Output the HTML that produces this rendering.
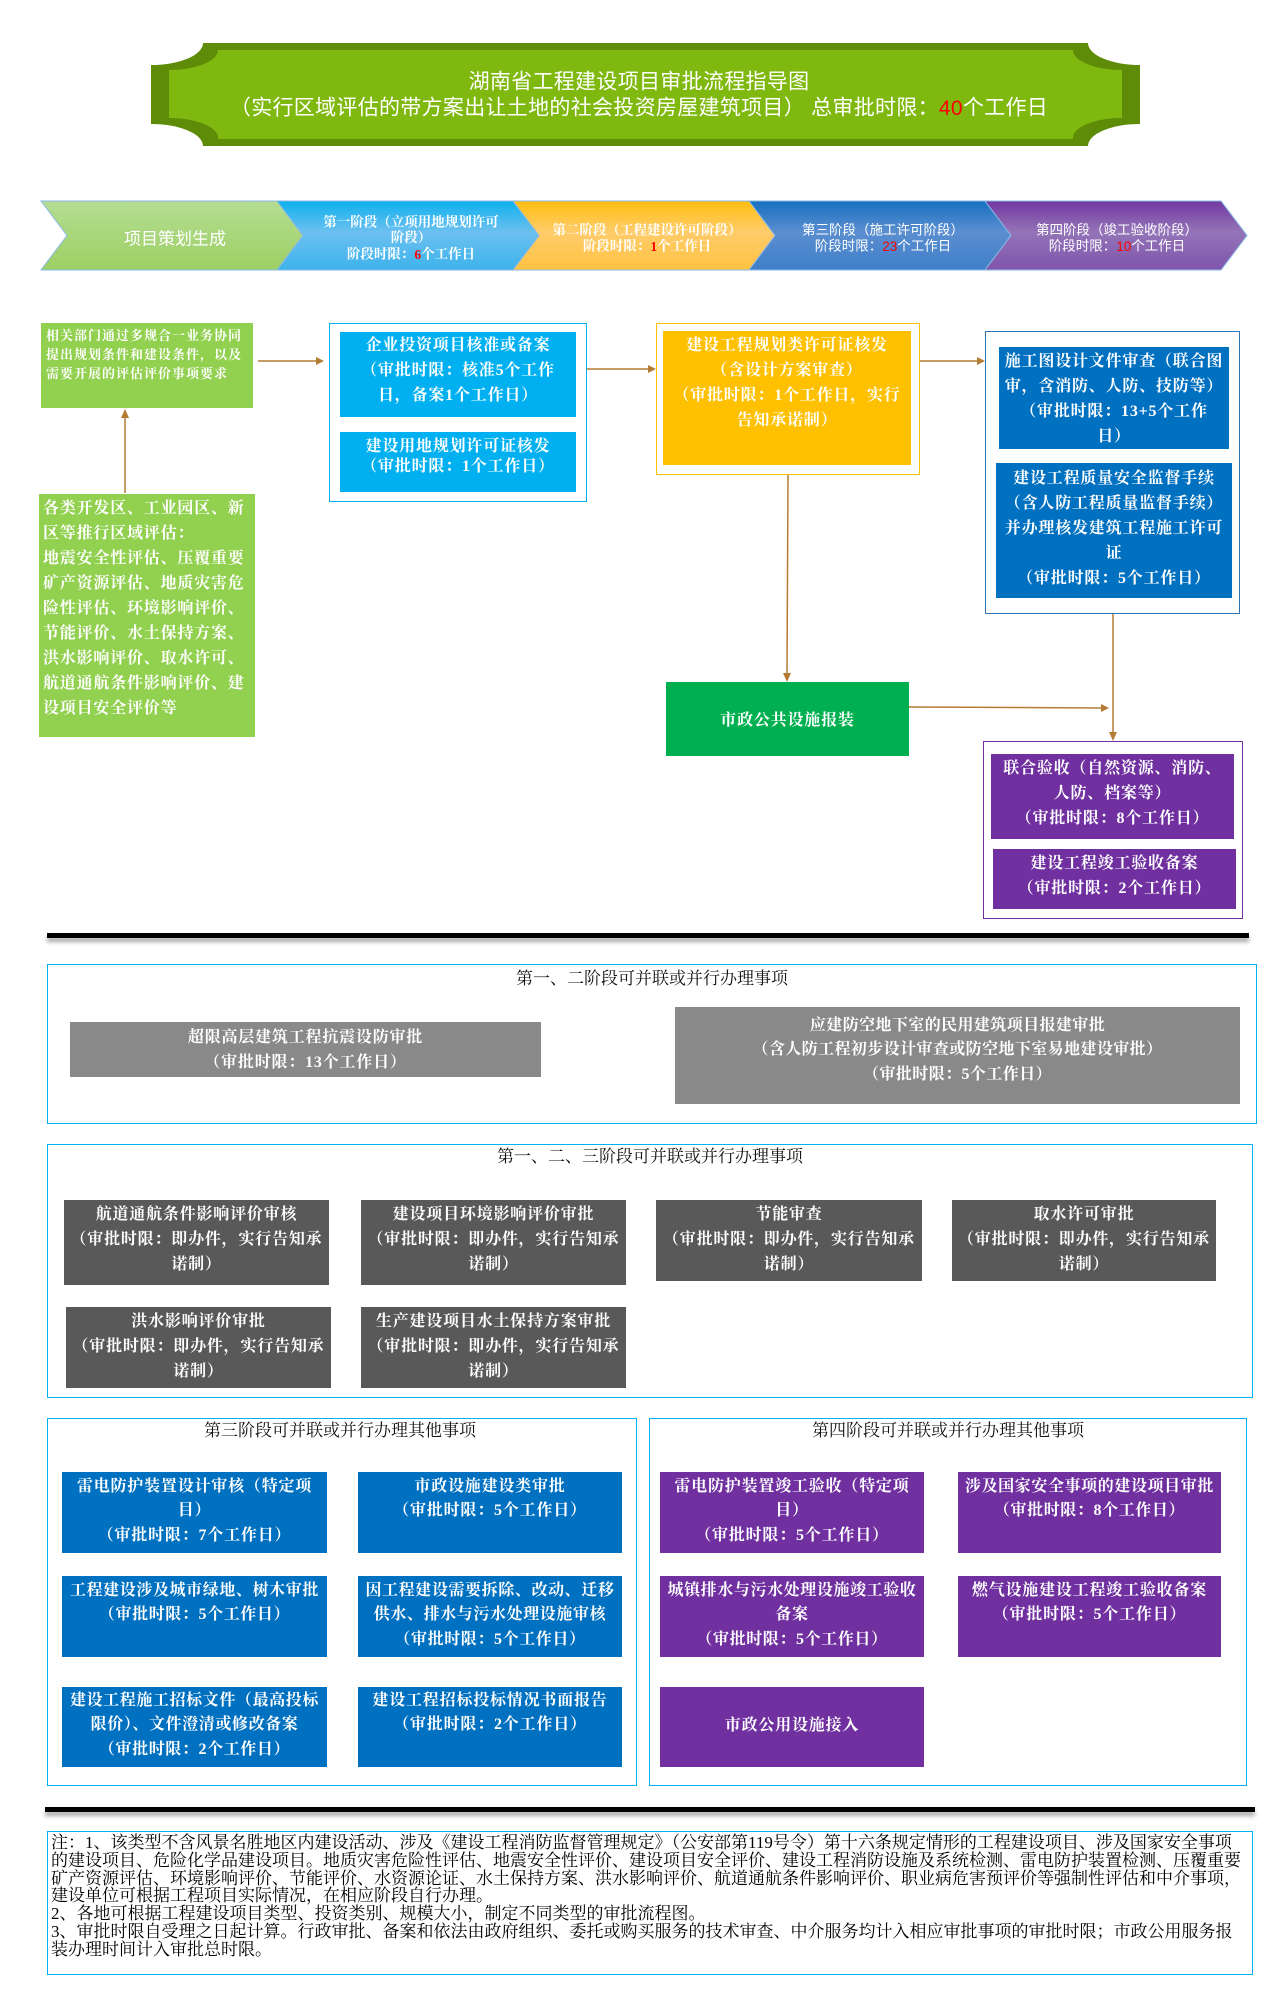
<!DOCTYPE html>
<html>
<head>
<meta charset="utf-8">
<style>
html,body{margin:0;padding:0;background:#fff;}
body{width:1288px;height:2004px;position:relative;overflow:hidden;}
.a{position:absolute;box-sizing:border-box;}
.b{font-family:"Liberation Serif","Noto Serif CJK SC",serif;font-weight:bold;font-size:16px;letter-spacing:0.8px;color:#fff;text-align:center;white-space:nowrap;line-height:25px;}
.sec{border:1.5px solid #00b0f0;background:#fff;}
.st{position:absolute;font-family:"Liberation Serif","Noto Serif CJK SC",serif;font-size:17px;line-height:20px;color:#111;white-space:nowrap;transform:translateX(-50%);}
.bar{position:absolute;height:5px;background:#000;box-shadow:0 4px 4px rgba(0,0,0,0.35);}
.gr{background:#898989;}
.dk{background:#595959;}
.bl{background:#0070c0;}
.pu{background:#7030a0;}
</style>
</head>
<body>

<!-- Title banner + stage chevrons -->
<svg class="a" style="left:0;top:0" width="1288" height="300" xmlns="http://www.w3.org/2000/svg">
<defs>
<linearGradient id="g1" x1="0" y1="0" x2="0" y2="1"><stop offset="0" stop-color="#b5dd93"/><stop offset="1" stop-color="#9ccf63"/></linearGradient>
<linearGradient id="g2" x1="0" y1="0" x2="0" y2="1"><stop offset="0" stop-color="#0fb0ee"/><stop offset="0.45" stop-color="#6cc0f0"/><stop offset="1" stop-color="#3db3ec"/></linearGradient>
<linearGradient id="g3" x1="0" y1="0" x2="0" y2="1"><stop offset="0" stop-color="#ffbe0f"/><stop offset="0.45" stop-color="#ffcc6c"/><stop offset="1" stop-color="#ffc240"/></linearGradient>
<linearGradient id="g4" x1="0" y1="0" x2="0" y2="1"><stop offset="0" stop-color="#1770c0"/><stop offset="0.45" stop-color="#5b8ed0"/><stop offset="1" stop-color="#3f7fc8"/></linearGradient>
<linearGradient id="g5" x1="0" y1="0" x2="0" y2="1"><stop offset="0" stop-color="#7238a0"/><stop offset="0.45" stop-color="#9474b8"/><stop offset="1" stop-color="#7f55ac"/></linearGradient>
</defs>
<path d="M203,43 H1088 A52,22 0 0 0 1140,65 V124 A52,22 0 0 0 1088,146 H203 A52,22 0 0 0 151,124 V65 A52,22 0 0 0 203,43 Z" fill="#5e8b08"/>
<path d="M218,50 H1073 A49,20 0 0 0 1122,70 V118 A49,20 0 0 0 1073,139 H218 A49,20 0 0 0 169,118 V70 A49,20 0 0 0 218,50 Z" fill="#7fb80f"/>
<text x="639" y="82" fill="#fff" font-family="Liberation Sans, Noto Sans CJK SC, sans-serif" font-size="21" letter-spacing="0.3" text-anchor="middle" dominant-baseline="central">湖南省工程建设项目审批流程指导图</text>
<text x="639" y="108" fill="#fff" font-family="Liberation Sans, Noto Sans CJK SC, sans-serif" font-size="21" letter-spacing="0.3" text-anchor="middle" dominant-baseline="central">（实行区域评估的带方案出让土地的社会投资房屋建筑项目）  总审批时限：<tspan fill="#ff0000">40</tspan>个工作日</text>

<polygon points="41,201 277,201 303,235.5 277,270 41,270 67,235.5" fill="url(#g1)" stroke="#8ab8e6" stroke-width="1"/>
<polygon points="277,201 513,201 539,235.5 513,270 277,270 303,235.5" fill="url(#g2)" stroke="#8ab8e6" stroke-width="1"/>
<polygon points="513,201 749,201 775,235.5 749,270 513,270 539,235.5" fill="url(#g3)" stroke="#8ab8e6" stroke-width="1"/>
<polygon points="749,201 985,201 1011,235.5 985,270 749,270 775,235.5" fill="url(#g4)" stroke="#8ab8e6" stroke-width="1"/>
<polygon points="985,201 1221,201 1247,235.5 1221,270 985,270 1011,235.5" fill="url(#g5)" stroke="#8ab8e6" stroke-width="1"/>

<g font-family="Liberation Serif, Noto Serif CJK SC, serif" fill="#fff" text-anchor="middle" dominant-baseline="central">
<text x="175" y="239" font-size="17" font-family="Liberation Sans, Noto Sans CJK SC, sans-serif">项目策划生成</text>
<g font-size="13.5" font-weight="bold">
<text x="411" y="222">第一阶段（立项用地规划许可</text>
<text x="411" y="237.5">阶段）</text>
<text x="411" y="254">阶段时限：<tspan fill="#ff0000">6</tspan>个工作日</text>
<text x="647" y="230">第二阶段（工程建设许可阶段）</text>
<text x="647" y="246">阶段时限：<tspan fill="#ff0000">1</tspan>个工作日</text>
</g>
<g font-size="13.5" font-family="Liberation Sans, Noto Sans CJK SC, sans-serif">
<text x="883" y="230">第三阶段（施工许可阶段）</text>
<text x="883" y="246">阶段时限：<tspan fill="#ff0000">23</tspan>个工作日</text>
<text x="1117" y="230">第四阶段（竣工验收阶段）</text>
<text x="1117" y="246">阶段时限：<tspan fill="#ff0000">10</tspan>个工作日</text>
</g>
</g>
</svg>

<!-- Main flow -->
<div class="a b" style="left:41px;top:323px;width:212px;height:85px;background:#92d050;text-align:left;font-size:13px;line-height:19px;letter-spacing:1px;padding:2.5px 0 0 5px;">相关部门通过多规合一业务协同<br>提出规划条件和建设条件，以及<br>需要开展的评估评价事项要求</div>

<div class="a b" style="left:39px;top:494px;width:216px;height:243px;background:#92d050;text-align:left;padding:1.5px 0 0 4px;">各类开发区、工业园区、新<br>区等推行区域评估：<br>地震安全性评估、压覆重要<br>矿产资源评估、地质灾害危<br>险性评估、环境影响评价、<br>节能评价、水土保持方案、<br>洪水影响评价、取水许可、<br>航道通航条件影响评价、建<br>设项目安全评价等</div>

<div class="a" style="left:329px;top:323px;width:258px;height:179px;border:1px solid #00b0f0;"></div>
<div class="a b" style="left:340px;top:332px;width:236px;height:85px;background:#00b0f0;padding-top:0.5px;">企业投资项目核准或备案<br>（审批时限：核准5个工作<br>日，备案1个工作日）</div>
<div class="a b" style="left:340px;top:432px;width:236px;height:60px;background:#00b0f0;line-height:20px;padding-top:5px;">建设用地规划许可证核发<br>（审批时限：1个工作日）</div>

<div class="a" style="left:656px;top:323px;width:264px;height:152px;border:1.5px solid #ffc000;"></div>
<div class="a b" style="left:663px;top:331px;width:248px;height:134px;background:#ffc000;padding-top:1.5px;">建设工程规划类许可证核发<br>（含设计方案审查）<br>（审批时限：1个工作日，实行<br>告知承诺制）</div>

<div class="a" style="left:985px;top:331px;width:255px;height:283px;border:1px solid #2e75b6;"></div>
<div class="a b bl" style="left:999px;top:347px;width:230px;height:102px;padding-top:1.5px;">施工图设计文件审查（联合图<br>审，含消防、人防、技防等）<br>（审批时限：13+5个工作<br>日）</div>
<div class="a b bl" style="left:996px;top:463px;width:236px;height:135px;padding-top:2.5px;">建设工程质量安全监督手续<br>（含人防工程质量监督手续）<br>并办理核发建筑工程施工许可<br>证<br>（审批时限：5个工作日）</div>

<div class="a b" style="left:666px;top:682px;width:243px;height:74px;background:#00b050;padding-top:25.5px;">市政公共设施报装</div>

<div class="a" style="left:983px;top:741px;width:260px;height:178px;border:1.5px solid #7030a0;"></div>
<div class="a b pu" style="left:991px;top:754px;width:243px;height:85px;padding-top:1.5px;">联合验收（自然资源、消防、<br>人防、档案等）<br>（审批时限：8个工作日）</div>
<div class="a b pu" style="left:993px;top:849px;width:243px;height:60px;padding-top:1.5px;">建设工程竣工验收备案<br>（审批时限：2个工作日）</div>

<!-- connectors -->
<svg class="a" style="left:0;top:0" width="1288" height="950" xmlns="http://www.w3.org/2000/svg">
<g stroke="#b47b35" stroke-width="1.5" fill="none">
<line x1="258" y1="361" x2="318" y2="361"/>
<line x1="125" y1="493" x2="125" y2="416"/>
<line x1="587" y1="369" x2="650" y2="369"/>
<line x1="920" y1="361" x2="979" y2="361"/>
<line x1="788" y1="475" x2="787" y2="675"/>
<line x1="909" y1="707" x2="1102" y2="708"/>
<line x1="1113" y1="614" x2="1113" y2="734"/>
</g>
<g fill="#b47b35">
<polygon points="324,361 316,357 316,365"/>
<polygon points="125,409 121,418 129,418"/>
<polygon points="656,369 648,365 648,373"/>
<polygon points="985,361 977,357 977,365"/>
<polygon points="787,682 783,673 791,673"/>
<polygon points="1109,708 1101,704 1101,712"/>
<polygon points="1113,741 1109,732 1117,732"/>
</g>
</svg>

<div class="bar" style="left:47px;top:933px;width:1202px;"></div>

<!-- Section 1 -->
<div class="a sec" style="left:47px;top:964px;width:1210px;height:160px;"></div>
<div class="st" style="left:652px;top:969px;">第一、二阶段可并联或并行办理事项</div>
<div class="a b gr" style="left:70px;top:1022px;width:471px;height:55px;padding-top:2.5px;">超限高层建筑工程抗震设防审批<br>（审批时限：13个工作日）</div>
<div class="a b gr" style="left:675px;top:1007px;width:565px;height:97px;line-height:24.5px;padding-top:6.75px;letter-spacing:0.4px;">应建防空地下室的民用建筑项目报建审批<br>（含人防工程初步设计审查或防空地下室易地建设审批）<br>（审批时限：5个工作日）</div>

<!-- Section 2 -->
<div class="a sec" style="left:47px;top:1144px;width:1206px;height:254px;"></div>
<div class="st" style="left:650px;top:1147px;">第一、二、三阶段可并联或并行办理事项</div>
<div class="a b dk" style="left:64px;top:1200px;width:265px;height:85px;padding-top:1.5px;">航道通航条件影响评价审核<br>（审批时限：即办件，实行告知承<br>诺制）</div>
<div class="a b dk" style="left:361px;top:1200px;width:265px;height:85px;padding-top:1.5px;">建设项目环境影响评价审批<br>（审批时限：即办件，实行告知承<br>诺制）</div>
<div class="a b dk" style="left:656px;top:1200px;width:266px;height:81px;padding-top:1.5px;">节能审查<br>（审批时限：即办件，实行告知承<br>诺制）</div>
<div class="a b dk" style="left:952px;top:1200px;width:264px;height:81px;padding-top:1.5px;">取水许可审批<br>（审批时限：即办件，实行告知承<br>诺制）</div>
<div class="a b dk" style="left:66px;top:1307px;width:265px;height:81px;padding-top:1.5px;">洪水影响评价审批<br>（审批时限：即办件，实行告知承<br>诺制）</div>
<div class="a b dk" style="left:361px;top:1307px;width:265px;height:81px;padding-top:1.5px;">生产建设项目水土保持方案审批<br>（审批时限：即办件，实行告知承<br>诺制）</div>

<!-- Section 3 -->
<div class="a sec" style="left:47px;top:1418px;width:590px;height:368px;"></div>
<div class="st" style="left:340px;top:1421px;">第三阶段可并联或并行办理其他事项</div>
<div class="a b bl" style="left:62px;top:1472px;width:265px;height:81px;line-height:24.5px;padding-top:2.75px;">雷电防护装置设计审核（特定项<br>目）<br>（审批时限：7个工作日）</div>
<div class="a b bl" style="left:358px;top:1472px;width:264px;height:81px;line-height:24.5px;padding-top:2.75px;">市政设施建设类审批<br>（审批时限：5个工作日）</div>
<div class="a b bl" style="left:62px;top:1576px;width:265px;height:81px;line-height:24.5px;padding-top:2.75px;letter-spacing:0.6px;">工程建设涉及城市绿地、树木审批<br>（审批时限：5个工作日）</div>
<div class="a b bl" style="left:358px;top:1576px;width:264px;height:81px;line-height:24.5px;padding-top:2.75px;letter-spacing:0.6px;">因工程建设需要拆除、改动、迁移<br>供水、排水与污水处理设施审核<br>（审批时限：5个工作日）</div>
<div class="a b bl" style="left:62px;top:1687px;width:265px;height:80px;line-height:24.5px;padding-top:1.75px;letter-spacing:0.6px;">建设工程施工招标文件（最高投标<br>限价）、文件澄清或修改备案<br>（审批时限：2个工作日）</div>
<div class="a b bl" style="left:358px;top:1687px;width:264px;height:80px;line-height:24.5px;padding-top:1.75px;">建设工程招标投标情况书面报告<br>（审批时限：2个工作日）</div>

<!-- Section 4 -->
<div class="a sec" style="left:649px;top:1418px;width:598px;height:368px;"></div>
<div class="st" style="left:948px;top:1421px;">第四阶段可并联或并行办理其他事项</div>
<div class="a b pu" style="left:660px;top:1472px;width:264px;height:81px;line-height:24.5px;padding-top:2.75px;">雷电防护装置竣工验收（特定项<br>目）<br>（审批时限：5个工作日）</div>
<div class="a b pu" style="left:958px;top:1472px;width:263px;height:81px;line-height:24.5px;padding-top:2.75px;letter-spacing:0.6px;">涉及国家安全事项的建设项目审批<br>（审批时限：8个工作日）</div>
<div class="a b pu" style="left:660px;top:1576px;width:264px;height:81px;line-height:24.5px;padding-top:2.75px;letter-spacing:0.6px;">城镇排水与污水处理设施竣工验收<br>备案<br>（审批时限：5个工作日）</div>
<div class="a b pu" style="left:958px;top:1576px;width:263px;height:81px;line-height:24.5px;padding-top:2.75px;">燃气设施建设工程竣工验收备案<br>（审批时限：5个工作日）</div>
<div class="a b pu" style="left:660px;top:1687px;width:264px;height:80px;padding-top:25.5px;">市政公用设施接入</div>

<div class="bar" style="left:45px;top:1807px;width:1210px;"></div>

<!-- Notes -->
<div class="a" style="left:47px;top:1831px;width:1206px;height:144px;border:1.5px solid #00b0f0;"></div>
<div class="a" style="left:51px;top:1834px;font-family:'Liberation Serif','Noto Serif CJK SC',serif;font-size:17px;line-height:17.8px;color:#000;white-space:nowrap;">注：1、该类型不含风景名胜地区内建设活动、涉及《建设工程消防监督管理规定》（公安部第119号令）第十六条规定情形的工程建设项目、涉及国家安全事项<br>的建设项目、危险化学品建设项目。地质灾害危险性评估、地震安全性评价、建设项目安全评价、建设工程消防设施及系统检测、雷电防护装置检测、压覆重要<br>矿产资源评估、环境影响评价、节能评价、水资源论证、水土保持方案、洪水影响评价、航道通航条件影响评价、职业病危害预评价等强制性评估和中介事项，<br>建设单位可根据工程项目实际情况，在相应阶段自行办理。<br>2、各地可根据工程建设项目类型、投资类别、规模大小，制定不同类型的审批流程图。<br>3、审批时限自受理之日起计算。行政审批、备案和依法由政府组织、委托或购买服务的技术审查、中介服务均计入相应审批事项的审批时限；市政公用服务报<br>装办理时间计入审批总时限。</div>

</body>
</html>
